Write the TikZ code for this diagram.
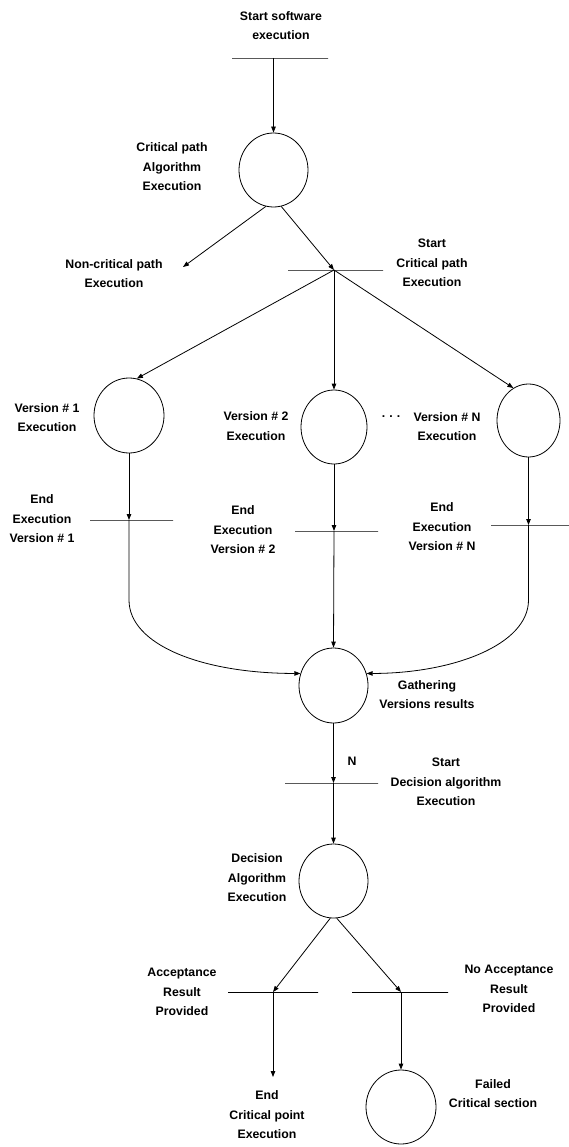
\documentclass[tikz,border=0pt]{standalone}
\usepackage{fontspec}
\setmainfont{Liberation Sans}
\usetikzlibrary{arrows.meta,shapes.geometric}
\begin{document}
\begin{tikzpicture}[x=1pt,y=-1pt,
  every node/.style={font=\fontsize{12.3}{19.5}\selectfont\bfseries},
  place/.style={draw, ellipse, inner sep=0pt, line width=0.8pt, minimum width=69pt, minimum height=74pt},
  trans/.style={draw, rectangle, inner sep=0pt, minimum height=0pt, line width=0.9pt, minimum width=#1},
  lbl/.style={align=center, inner sep=0pt},
  arr/.style={line width=0.8pt, -{Triangle[length=6pt,width=4.5pt]}},
  ln/.style={line width=0.8pt}
]
\useasboundingbox (0,0) rectangle (569,1147);

% places
\node[place] (C1) at (273.5,170) {};
\node[place, minimum width=70pt, minimum height=75pt] (V1) at (129,415.5) {};
\node[place, minimum width=66pt] (V2) at (334,427) {};
\node[place, minimum width=63pt, minimum height=73pt] (VN) at (528.5,420.5) {};
\node[place, minimum height=75pt] (G) at (333.5,685.5) {};
\node[place] (D) at (333.5,881) {};
\node[place, minimum width=70pt] (F) at (401,1107) {};

% transitions
\node[trans=96pt] (b0) at (280,58) {};
\node[trans=95pt] (b1) at (335.5,270) {};
\node[trans=83pt] (e1) at (131.5,520) {};
\node[trans=83pt] (e2) at (336.5,531) {};
\node[trans=78pt] (eN) at (530,525) {};
\node[trans=93pt] (d1) at (331.5,783) {};
\node[trans=90pt] (a1) at (273,992) {};
\node[trans=96pt] (a2) at (400,992) {};

\coordinate (nc) at (183,267);
\coordinate (endc) at (273,1077);

% labels
\node[lbl] (t0) at (281,25.5) {Start software\\execution};
\node[lbl] (tC1) at (172,167) {Critical path\\Algorithm\\Execution};
\node[lbl] (tNC) at (114,273.5) {Non-critical path\\Execution};
\node[lbl] (tSC) at (432,263) {Start\\Critical path\\Execution};
\node[lbl] (tV1) at (47,417.5) {Version \# 1\\Execution};
\node[lbl] (tV2) at (256,426) {Version \# 2\\Execution};
\node[lbl] (tdots) at (391,417) {.\,\,.\,\,.};
\node[lbl] (tVN) at (447,426.5) {Version \# N\\Execution};
\node[lbl] (tE1) at (42,519) {End\\Execution\\Version \# 1};
\node[lbl] (tE2) at (243,530) {End\\Execution\\Version \# 2};
\node[lbl] (tEN) at (442,527) {End\\Execution\\Version \# N};
\node[lbl] (tG) at (427,694.5) {Gathering\\Versions results};
\node[lbl] (tN) at (352,761) {N};
\node[lbl] (tSD) at (446,782) {Start\\Decision algorithm\\Execution};
\node[lbl] (tD) at (257,878) {Decision\\Algorithm\\Execution};
\node[lbl] (tA) at (182,992) {Acceptance\\Result\\Provided};
\node[lbl] (tNA) at (509,989) {No Acceptance\\Result\\Provided};
\node[lbl] (tEnd) at (267,1115) {End\\Critical point\\Execution};
\node[lbl] (tF) at (493,1093.5) {Failed\\Critical section};

% connectors
\draw[arr] (C1.north |- b0) -- (C1.north);
\draw[arr] (C1.258) -- (nc);
\draw[arr] (C1.282) -- (V2.north |- b1);
\draw[arr] (V2.north |- b1) -- (V1.78);
\draw[arr] (V2.north |- b1) -- (V2.north);
\draw[arr] (V2.north |- b1) -- (VN.115);

\draw[arr] (V1.south) -- (V1.south |- e1);
\draw[arr] (V2.south) -- (V2.south |- e2);
\draw[arr] (VN.south) -- (VN.south |- eN);

\draw[arr] (V1.south |- e1) -- ++(0,80) .. controls +(0,45) and +(-98,0) .. (G.160);
\draw[arr] (V2.south |- e2) -- (G.north);
\draw[arr] (VN.south |- eN) -- ++(0,75) .. controls +(0,45) and +(86,0) .. (G.20);

\draw[arr] (G.south) -- (G.south |- d1);
\draw[arr] (G.south |- d1) -- (D.north);

\draw[arr] (D.265) -- (a1.center);
\draw[arr] (D.275) -- (F.north |- a2);
\draw[arr] (a1.center) -- (endc);
\draw[arr] (F.north |- a2) -- (F.north);
\end{tikzpicture}
\end{document}
